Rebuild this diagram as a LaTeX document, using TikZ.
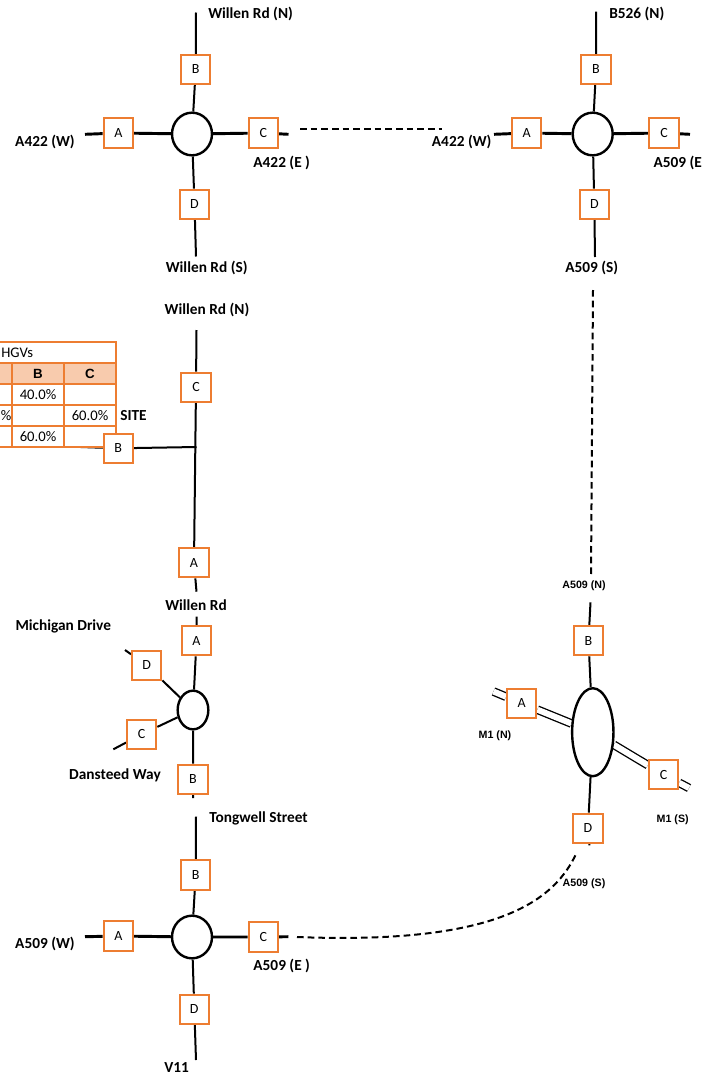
\documentclass[tikz,border=0pt]{standalone}
\usepackage{fontspec}
\setmainfont{Carlito}
\newfontfamily\arialfont{Liberation Sans}
\usetikzlibrary{shapes.geometric}
\definecolor{armorange}{RGB}{237,125,49}
\definecolor{headfill}{RGB}{248,203,173}
\pgfdeclarelayer{roads}
\pgfsetlayers{roads,main}

\begin{document}
\begin{tikzpicture}[x=0.75pt,y=-0.75pt,
  arm/.style={draw=armorange,line width=1.5pt,fill=white,minimum size=22pt,inner sep=0pt,font=\fontsize{10.5}{12}\selectfont},
  rbt/.style={draw,ellipse,line width=1.8pt,inner sep=0pt},
  lbl/.style={font=\fontsize{11.5}{13}\selectfont\bfseries,inner sep=0pt},
  sml/.style={font=\arialfont\fontsize{8}{9}\selectfont\bfseries,inner sep=0pt},
  cell/.style={font=\fontsize{11}{12}\selectfont,inner sep=0pt},
  colhead/.style={font=\arialfont\fontsize{10}{11}\selectfont\bfseries,inner sep=0pt},
  mainroad/.style={line width=2.2pt},
  sideroad/.style={line width=1.5pt},
  mway/.style={double,double distance=4.5pt,line width=1pt},
  link/.style={line width=1.5pt,dash pattern=on 5pt off 3pt}]
\useasboundingbox (0,0) rectangle (707,1078);
\clip (0,0) rectangle (707,1078);

% top left junction: A422 / Willen Rd
\node[rbt,minimum width=30pt,minimum height=32pt] (tlr) at (192,134) {};
\node[arm] (tlb) at (195.7,69.5) {B};
\node[arm] (tla) at (118.3,133) {A};
\node[arm] (tlc) at (263.3,133) {C};
\node[arm] (tld) at (194.5,204.3) {D};
\coordinate (tln) at (196,12.5);
\coordinate (tls) at (196,256.5);
\coordinate (tlw) at (85,134.3);
\coordinate (tle) at (288.5,134.3);
\node[lbl,anchor=west] (tlnl) at (208,14) {Willen Rd (N)};
\node[lbl] (tlwl) at (45,141.7) {A422 (W)};
\node[lbl] (tlel) at (281.7,162.7) {A422 (E )};
\node[lbl] (tlsl) at (206.7,268.3) {Willen Rd (S)};

% top right junction: A422 / A509 / B526
\node[rbt,minimum width=30pt,minimum height=32pt] (trr) at (592.7,134) {};
\node[arm] (trb) at (596,69.5) {B};
\node[arm] (tra) at (526.7,133) {A};
\node[arm] (trc) at (664,133) {C};
\node[arm] (trd) at (594.3,204.3) {D};
\coordinate (trn) at (596,11.7);
\coordinate (trs) at (595,257);
\coordinate (trw) at (494,134.3);
\coordinate (tre) at (690,134.3);
\node[lbl,anchor=west] (trnl) at (609,14) {B526 (N)};
\node[lbl] (trwl) at (461.7,141.7) {A422 (W)};
\node[lbl,anchor=west] (trel) at (653.3,162.7) {A509 (E};
\node[lbl] (trsl) at (591.7,268.3) {A509 (S)};

% site access on Willen Rd
\fill[headfill] (-40,363) rectangle (116,384);
\draw[armorange,line width=1.5pt] (-40,342) rectangle (116,447);
\foreach \ry in {363,384,405,426}
  \draw[armorange,line width=1.5pt] (-40,\ry) -- (116,\ry);
\foreach \cx in {12,64}
  \draw[armorange,line width=1.5pt] (\cx,363) -- (\cx,447);
\node[cell,anchor=west] (thead) at (1,352.5) {HGVs};
\node[colhead] (tcolb) at (38,373.5) {B};
\node[colhead] (tcolc) at (90,373.5) {C};
\node[cell] (tb1) at (38,394.5) {40.0\%};
\node[cell,anchor=west] (ta2) at (0.5,415.5) {\%};
\node[cell] (tc2) at (90,415.5) {60.0\%};
\node[cell] (tb3) at (38,436.5) {60.0\%};
\node[lbl,anchor=west] (sitel) at (120,415.7) {SITE};

\node[arm] (stc) at (196,387.3) {C};
\node[arm] (stb) at (118.3,448.3) {B};
\node[arm] (sta) at (194,562.7) {A};
\coordinate (stn) at (196.5,330);
\coordinate (sts) at (196.5,591.7);
\coordinate (stj) at (196.5,447);
\coordinate (stw) at (80.7,447);
\node[lbl] (stnl) at (207,310) {Willen Rd (N)};

% Michigan Drive / Dansteed Way
\node[rbt,minimum width=23pt,minimum height=29pt] (mdr) at (193,710) {};
\node[arm] (mda) at (196.5,640.7) {A};
\node[arm] (mdb) at (193,779.3) {B};
\node[arm] (mdd) at (146.7,665.3) {D};
\node[arm] (mdc) at (141.7,734.3) {C};
\coordinate (mdn) at (196.7,616.7);
\coordinate (mds) at (193,798);
\coordinate (mdde) at (125,650);
\coordinate (mdce) at (113.3,749.3);
\node[lbl] (mdnl) at (196,605) {Willen Rd};
\node[lbl] (mddl) at (63.3,626) {Michigan Drive};
\node[lbl] (mdcl) at (115,775) {Dansteed Way};

% bottom left junction: A509 / Tongwell Street / V11
\node[rbt,minimum width=30pt,minimum height=32pt] (blr) at (192,937) {};
\node[arm] (blb) at (195.7,875) {B};
\node[arm] (bla) at (118.3,936) {A};
\node[arm] (blc) at (263.3,937) {C};
\node[arm] (bld) at (194.3,1009.3) {D};
\coordinate (bln) at (196,816.7);
\coordinate (bls) at (196,1060);
\coordinate (blw) at (85,936.7);
\coordinate (ble) at (288.3,936.7);
\node[lbl,anchor=west] (blnl) at (209,818.3) {Tongwell Street};
\node[lbl] (blwl) at (45,944) {A509 (W)};
\node[lbl] (blel) at (281.7,965.7) {A509 (E )};
\node[lbl] (blsl) at (176.7,1068) {V11};

% M1 junction
\node[rbt,minimum width=31pt,minimum height=66pt] (m1r) at (592.8,732.2) {};
\node[arm] (m1b) at (588.5,640.7) {B};
\node[arm] (m1d) at (588,828.3) {D};
\node[arm] (m1a) at (521.7,703.3) {A};
\node[arm] (m1c) at (663.5,774.5) {C};
\coordinate (m1n) at (590.5,602.3);
\coordinate (m1s) at (589.5,845.3);
\coordinate (m1ae) at (493.5,691.5);
\coordinate (m1ce) at (689,788);
\node[sml] (m1nl) at (584,586) {A509 (N)};
\node[sml] (m1sl) at (584,883.3) {A509 (S)};
\node[sml] (m1al) at (495,735.7) {M1 (N)};
\node[sml] (m1cl) at (672.7,819.3) {M1 (S)};

% links between the junctions
\coordinate (lk1a) at (300,129);
\coordinate (lk1b) at (442,129);
\coordinate (lk2a) at (593,290);
\coordinate (lk2b) at (591,575);
\coordinate (lk3a) at (297,937);
\coordinate (lk3b) at (577,852);

\begin{pgfonlayer}{roads}
\draw[mainroad] (tlw) -- (tla) -- (tlr) -- (tlc) -- (tle);
\draw[sideroad] (tln) -- (tlb) -- (tlr) -- (tld) -- (tls);
\draw[mainroad] (trw) -- (tra) -- (trr) -- (trc) -- (tre);
\draw[sideroad] (trn) -- (trb) -- (trr) -- (trd) -- (trs);
\draw[sideroad] (stn) -- (stc) -- (sta) -- (sts);
\draw[sideroad] (stw) -- (stb) -- (stj);
\draw[sideroad] (mdn) -- (mda) -- (mdr) -- (mdb) -- (mds);
\draw[sideroad] (mdr) -- (mdd) -- (mdde);
\draw[sideroad] (mdr) -- (mdc) -- (mdce);
\draw[mainroad] (blw) -- (bla) -- (blr) -- (blc) -- (ble);
\draw[sideroad] (bln) -- (blb) -- (blr) -- (bld) -- (bls);
\draw[sideroad] (m1n) -- (m1b) -- (m1r) -- (m1d) -- (m1s);
\draw[mway] (m1r) -- (m1a) -- (m1ae);
\draw[mway] (m1r) -- (m1c) -- (m1ce);
\end{pgfonlayer}
\draw[link] (lk1a) -- (lk1b);
\draw[link] (lk2a) -- (lk2b);
\draw[link] (lk3a) .. controls (500,945) and (555,900) .. (lk3b);
\end{tikzpicture}
\end{document}
